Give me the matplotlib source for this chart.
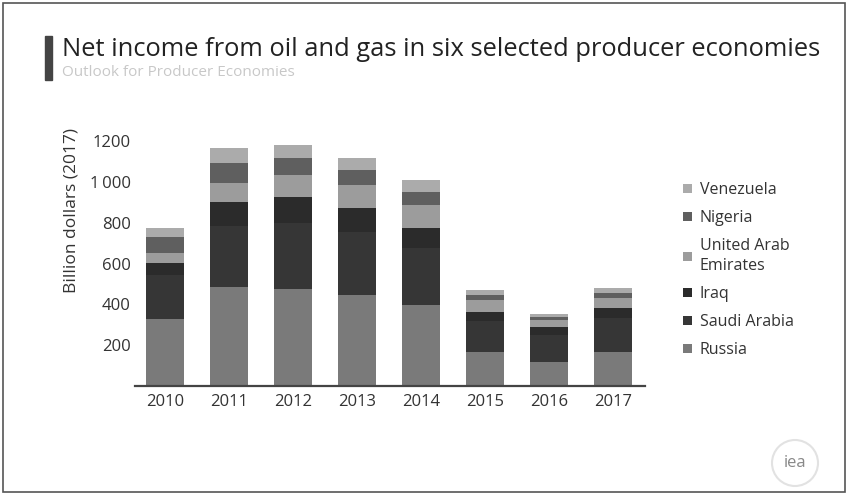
import numpy as np
import matplotlib
matplotlib.use("Agg")
import matplotlib.pyplot as plt
from matplotlib.patches import Rectangle, Circle
from matplotlib.transforms import IdentityTransform

# Billion dollars (2017)
years = ['2010', '2011', '2012', '2013', '2014', '2015', '2016', '2017']
russia = [330, 485, 478, 445, 397, 168, 119, 168]
saudi = [215, 300, 320, 310, 280, 150, 130, 165]
iraq = [58, 118, 130, 116, 96, 46, 42, 48]
uae = [49, 92, 106, 114, 114, 57, 35, 50]
nigeria = [78, 98, 83, 73, 65, 25, 14, 23]
venezuela = [46, 72, 64, 59, 57, 24, 14, 25]

series = [
    ('Russia', russia, '#7a7a7a'),
    ('Saudi Arabia', saudi, '#363636'),
    ('Iraq', iraq, '#2b2b2b'),
    ('United Arab\nEmirates', uae, '#9c9c9c'),
    ('Nigeria', nigeria, '#5f5f5f'),
    ('Venezuela', venezuela, '#ababab'),
]
yticks = [200, 400, 600, 800, 1000, 1200]
ytick_labels = ['200', '400', '600', '800', '1\u2009000', '1200']

plt.rcParams['font.family'] = ['Open Sans', 'DejaVu Sans']

fig = plt.figure(figsize=(8.5, 4.97), dpi=100)
fig.patch.set_facecolor('white')
ax = fig.add_axes([0.1588, 0.2233, 0.60, 0.513])

x = np.arange(len(years))
bottom = np.zeros(len(years))
handles = []
for name, vals, col in series:
    b = ax.bar(x, vals, width=0.58, bottom=bottom, color=col, label=name, linewidth=0)
    handles.append(b)
    bottom += np.array(vals)

ax.set_xlim(-0.47, 7.5)
ax.set_ylim(0, 1250)
ax.set_xticks(x)
ax.set_xticklabels(years, fontsize=12, color='#333333')
ax.set_yticks(yticks)
ax.set_yticklabels(ytick_labels, fontsize=12, color='#333333')
ax.tick_params(axis='both', length=0)
ax.tick_params(axis='y', pad=3)
ax.tick_params(axis='x', pad=6)
for s in ['top', 'right', 'left']:
    ax.spines[s].set_visible(False)
ax.spines['bottom'].set_color('#444444')
ax.spines['bottom'].set_linewidth(1.6)
ax.set_ylabel('Billion dollars (2017)', fontsize=12.5, color='#333333')
ax.yaxis.set_label_coords(-0.108, 0.69)

leg = ax.legend(handles[::-1], [s[0] for s in series][::-1],
                loc='upper left', bbox_to_anchor=(683 / 850, 1 - 182 / 497),
                bbox_transform=fig.transFigure, frameon=False, borderpad=0,
                borderaxespad=0, fontsize=11.5, handlelength=0.55, handleheight=0.55,
                handletextpad=0.5, labelspacing=0.75)
for t in leg.get_texts():
    t.set_color('#333333')
    t.set_linespacing(1.35)

# title block
fig.patches.append(Rectangle((45 / 850, 1 - 80 / 497), 7 / 850, 44 / 497,
                             transform=fig.transFigure, color='#444444'))
fig.text(62 / 850, 1 - 50 / 497, 'Net income from oil and gas in six selected producer economies',
         fontsize=18.4, color='#222222', va='center', ha='left')
fig.text(62 / 850, 1 - 73 / 497, 'Outlook for Producer Economies',
         fontsize=11, color='#c8c8c8', va='center', ha='left')

# iea logo
fig.add_artist(Circle((795, 497 - 463), 23, transform=IdentityTransform(),
                      facecolor='white', edgecolor='#e2e2e2', linewidth=1.5))
fig.text(795 / 850, 1 - 463 / 497, 'iea', fontsize=12, color='#888888',
         ha='center', va='center')

# page frame
fig.patches.append(Rectangle((0.004, 0.01), 0.99, 0.984, transform=fig.transFigure,
                             fill=False, edgecolor='#555555', linewidth=1.2))

fig.savefig('out.png', dpi=100)
